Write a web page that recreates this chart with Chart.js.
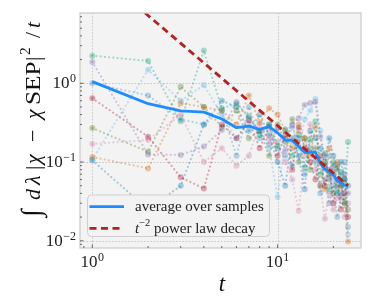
<!DOCTYPE html>
<html><head><meta charset="utf-8">
<script src="https://cdn.jsdelivr.net/npm/chart.js@4.4.1/dist/chart.umd.min.js"></script>
<style>html,body{margin:0;padding:0;background:#fff}canvas{display:block}</style>
</head><body>
<canvas id="c" width="374" height="308"></canvas>
<script>
// ---- data ----
const T = [1,2,3,4,5,6,7,8,9,10,11,12,13,14,15,16,17,18,19,20,21,22,23,24];
const AVG = [1.05,0.55,0.445,0.43,0.352,0.273,0.286,0.26,0.281,0.235,0.19,0.188,0.158,0.133,0.133,0.133,0.097,0.081,0.075,0.068,0.059,0.054,0.051,0.049];
const POWER_T = [1, 24];
const POWER_V = [29, 0.0503];
const S_TEAL   = [2.24,1.92,0.33,2.6,0.48,0.55,0.38,0.22,0.30,0.16,0.26,0.12,0.22,0.085,0.19,0.33,0.07,0.13,0.045,0.10,0.04,0.075,0.03,0.18];
const S_PURPLE = [1.86,0.125,0.123,0.157,0.255,0.58,0.36,0.25,0.17,0.27,0.14,0.30,0.36,0.53,0.56,0.58,0.21,0.12,0.06,0.09,0.05,0.035,0.07,0.04];
const S_RED    = [0.645,0.21,0.064,0.046,0.30,0.20,0.34,0.15,0.28,0.12,0.22,0.08,0.27,0.15,0.10,0.06,0.12,0.05,0.08,0.03,0.06,0.025,0.04,0.02];
const S_DKGREEN= [0.27,0.135,0.90,0.50,0.28,0.45,0.20,0.25,0.12,0.30,0.18,0.35,0.10,0.20,0.08,0.15,0.05,0.10,0.07,0.04,0.09,0.05,0.06,0.025];
const S_ORANGE = [0.116,0.083,0.557,0.50,0.45,0.30,0.70,0.32,0.48,0.40,0.25,0.15,0.30,0.20,0.12,0.28,0.10,0.045,0.15,0.07,0.10,0.05,0.03,0.0098];
const S_LTBLUE = [0.108,1.48,0.60,0.95,0.40,0.20,0.30,0.25,0.15,0.036,0.20,0.28,0.15,0.35,0.45,0.63,0.25,0.08,0.12,0.06,0.04,0.07,0.05,0.012];
const S_PINK   = [0.17,0.19,0.40,0.10,0.15,0.09,0.12,0.30,0.20,0.18,0.10,0.06,0.024,0.12,0.30,0.08,0.05,0.019,0.04,0.025,0.035,0.06,0.02,0.03];
const S_BLUE   = [1.0,0.70,0.35,0.30,0.45,0.12,0.50,0.20,0.30,0.15,0.12,0.09,0.20,0.07,0.15,0.10,0.04,0.06,0.03,0.05,0.02,0.04,0.10,0.015];
const S_DKBLUE = [0.105,0.025,0.05,0.30,0.60,0.50,0.25,0.40,0.22,0.10,0.05,0.20,0.12,0.045,0.25,0.20,0.15,0.09,0.20,0.12,0.08,0.10,0.06,0.05];
const SAMPLES = [S_TEAL,S_PURPLE,S_RED,S_DKGREEN,S_ORANGE,S_LTBLUE,S_PINK,S_BLUE,S_DKBLUE];
const SAMPLE_COLORS = ['0,158,115','122,104,166','166,6,40','70,120,33','213,94,0','86,180,233','204,121,167','52,138,189','0,114,178'];
const X_TICKS = [1, 10];
const Y_TICKS = [0.01, 0.1, 1];
const LEGEND_LABELS = ['average over samples', 'power law decay'];

const SERIF = '"Liberation Serif", "DejaVu Serif", serif';
const toXY = (xs, vs) => vs.map((v, i) => ({x: xs[i], y: v}));

const datasets = [
  {data: toXY(POWER_T, POWER_V), borderColor: '#B22222', borderWidth: 2.8, borderDash: [7, 4.5],
   pointRadius: 0, clip: 0, order: 0, tension: 0},
  {data: toXY(T, AVG), borderColor: '#1E8CFF', borderWidth: 2.8, pointRadius: 0, order: 1, tension: 0,
   borderJoinStyle: 'round'}
];
SAMPLES.forEach((s, k) => {
  datasets.push({
    data: toXY(T, s), order: 2, tension: 0,
    borderColor: 'rgba(' + SAMPLE_COLORS[k] + ',0.34)', borderWidth: 2.2,
    borderDash: [0.01, 4.2], borderCapStyle: 'round',
    pointRadius: 3, pointHoverRadius: 3, pointBorderWidth: 0,
    pointBackgroundColor: 'rgba(' + SAMPLE_COLORS[k] + ',0.33)'
  });
});

function supText(ctx, base, sup, x, y, bSize, sSize, align, supRise) {
  ctx.font = bSize + 'px ' + SERIF;
  const wb = ctx.measureText(base).width;
  ctx.font = sSize + 'px ' + SERIF;
  const ws = ctx.measureText(sup).width;
  const tot = wb + ws + 0.5;
  let x0 = align === 'center' ? x - tot / 2 : (align === 'right' ? x - tot : x);
  ctx.textAlign = 'left'; ctx.textBaseline = 'alphabetic';
  ctx.font = bSize + 'px ' + SERIF; ctx.fillText(base, x0, y);
  ctx.font = sSize + 'px ' + SERIF; ctx.fillText(sup, x0 + wb + 0.5, y - supRise);
}
function expStr(v) {
  const e = Math.round(Math.log10(v));
  return (e < 0 ? '\u2212' : '') + Math.abs(e);
}
function drawRich(ctx, pieces, x, y, size) {
  let cx = x;
  pieces.forEach(p => {
    ctx.font = (p.it ? 'italic ' : '') + (size * (p.s || 1)) + 'px ' + SERIF;
    ctx.fillText(p.t, cx, y - (p.rise || 0) * size);
    cx += ctx.measureText(p.t).width;
  });
}

const deco = {
  id: 'deco',
  beforeDraw(chart) {
    const {ctx, chartArea: a, scales: {x, y}} = chart;
    ctx.save();
    ctx.fillStyle = '#ffffff'; ctx.fillRect(0, 0, chart.width, chart.height);
    ctx.fillStyle = '#f3f3f3'; ctx.fillRect(a.left, a.top, a.right - a.left, a.bottom - a.top);
    ctx.strokeStyle = '#bdbdbd'; ctx.lineWidth = 0.8; ctx.setLineDash([1.6, 1.6]);
    X_TICKS.forEach(v => { const px = Math.round(x.getPixelForValue(v)) + 0.5;
      ctx.beginPath(); ctx.moveTo(px, a.top); ctx.lineTo(px, a.bottom); ctx.stroke(); });
    Y_TICKS.forEach(v => { const py = Math.round(y.getPixelForValue(v)) + 0.5;
      ctx.beginPath(); ctx.moveTo(a.left, py); ctx.lineTo(a.right, py); ctx.stroke(); });
    ctx.restore();
  },
  afterDatasetsDraw(chart) {
    const {ctx, chartArea: a, scales: {x, y}} = chart;
    ctx.save();
    // frame
    ctx.strokeStyle = '#cccccc'; ctx.lineWidth = 1.3; ctx.setLineDash([]);
    ctx.strokeRect(a.left, a.top, a.right - a.left, a.bottom - a.top);
    // inward ticks
    ctx.strokeStyle = '#444'; ctx.lineWidth = 0.8;
    for (let d = -3; d <= 1; d++) for (let m = 1; m <= 9; m++) {
      const v = m * Math.pow(10, d); const len = m === 1 ? 3.5 : 2;
      if (v >= x.min && v <= x.max) { const px = x.getPixelForValue(v);
        ctx.beginPath(); ctx.moveTo(px, a.bottom); ctx.lineTo(px, a.bottom - len); ctx.stroke(); }
      if (v >= y.min && v <= y.max) { const py = y.getPixelForValue(v);
        ctx.beginPath(); ctx.moveTo(a.left, py); ctx.lineTo(a.left + len, py); ctx.stroke(); }
    }
    // tick labels
    ctx.fillStyle = '#222';
    X_TICKS.forEach(v => supText(ctx, '10', expStr(v), x.getPixelForValue(v), 267, 17, 12, 'center', 6));
    Y_TICKS.forEach(v => { const py = y.getPixelForValue(v);
      supText(ctx, '10', expStr(v), 76, py + 5, 17, 12, 'right', 6); });
    // x label
    ctx.font = 'italic 23px ' + SERIF; ctx.textAlign = 'center'; ctx.fillStyle = '#111';
    ctx.fillText('t', 222, 291);
    // y label: pieces placed along the text direction (offset o from the start)
    const yl = [{t:'\u222B', s:1.25, o:0}, {t:'d', it:1, o:17}, {t:'\u03BB', it:1, o:32}, {t:'|', o:47},
      {t:'\u03C7', it:1, o:53}, {t:'\u2212', o:75}, {t:'\u03C7', it:1, o:98}, {t:'SEP', o:112}, {t:'|', o:156},
      {t:'2', s:0.7, rise:0.45, o:162}, {t:'/', o:179}, {t:'t', it:1, o:189}];
    const fs = 22;
    ctx.translate(39.5, 217); ctx.rotate(-Math.PI / 2); ctx.textAlign = 'left';
    yl.forEach(p => {
      ctx.font = (p.it ? 'italic ' : '') + (fs * (p.s || 1)) + 'px ' + SERIF;
      if (p.t === 'SEP') { ctx.save(); ctx.translate(p.o, 0); ctx.scale(1.15, 1); ctx.fillText(p.t, 0, 0); ctx.restore(); }
      else ctx.fillText(p.t, p.o, -(p.rise || 0) * fs);
    });
    ctx.setTransform(1, 0, 0, 1, 0, 0);
    // legend
    const L = 87.5, Tp = 195, R = 269.5, B = 236.5;
    ctx.beginPath(); ctx.roundRect(L, Tp, R - L, B - Tp, 4);
    ctx.fillStyle = 'rgba(243,243,243,0.92)'; ctx.fill();
    ctx.strokeStyle = '#cfcfcf'; ctx.lineWidth = 1; ctx.stroke();
    ctx.lineWidth = 2.8;
    ctx.strokeStyle = '#1E8CFF'; ctx.beginPath(); ctx.moveTo(89.5, 206.7); ctx.lineTo(124, 206.7); ctx.stroke();
    ctx.strokeStyle = '#B22222'; ctx.setLineDash([7, 4.5]);
    ctx.beginPath(); ctx.moveTo(89.5, 228.3); ctx.lineTo(124, 228.3); ctx.stroke(); ctx.setLineDash([]);
    let lf = 14; ctx.font = lf + 'px ' + SERIF; lf = lf * 129 / ctx.measureText(LEGEND_LABELS[0]).width;
    ctx.fillStyle = '#222'; ctx.textAlign = 'left';
    ctx.font = lf + 'px ' + SERIF; ctx.fillText(LEGEND_LABELS[0], 135, 211);
    drawRich(ctx, [{t:'t', it:1}, {t:'\u22122', s:0.7, rise:0.42}, {t:' ' + LEGEND_LABELS[1]}], 135, 232.5, lf);
    ctx.restore();
  }
};

new Chart(document.getElementById('c'), {
  type: 'line',
  data: {datasets},
  options: {
    responsive: false, animation: false, devicePixelRatio: 1,
    layout: {padding: {left: 80, top: 13, right: 13, bottom: 60}},
    plugins: {legend: {display: false}, tooltip: {enabled: false}},
    scales: {
      x: {type: 'logarithmic', min: 0.858, max: 28.2, ticks: {display: false}, grid: {display: false},
          border: {display: false}, afterFit: s => { s.height = 0; }},
      y: {type: 'logarithmic', min: 0.0081, max: 7.8, ticks: {display: false}, grid: {display: false},
          border: {display: false}, afterFit: s => { s.width = 0; }}
    }
  },
  plugins: [deco]
});
</script>
</body></html>
